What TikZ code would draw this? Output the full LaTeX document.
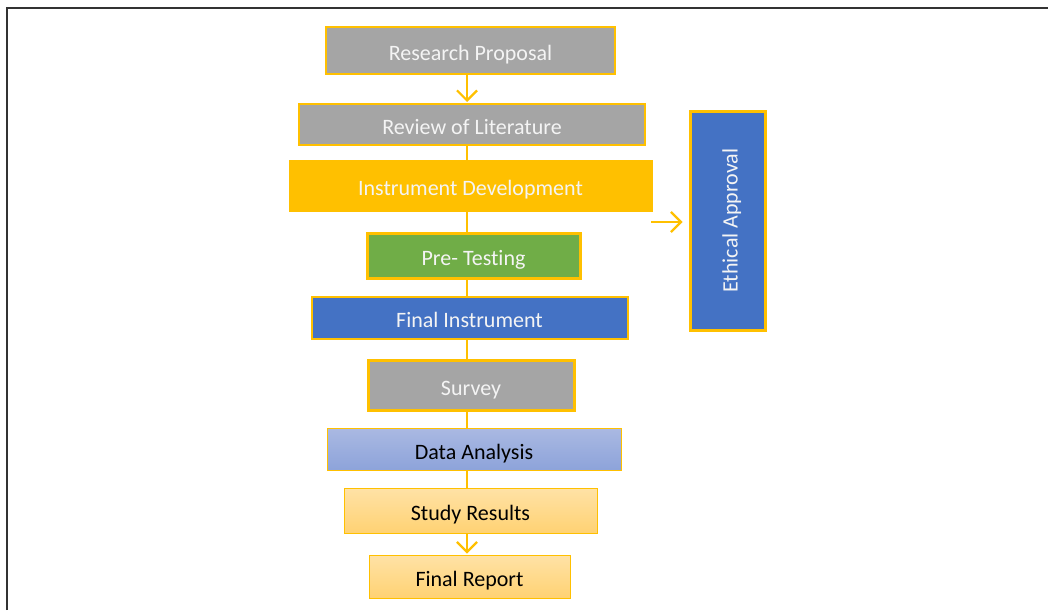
\documentclass[tikz,border=0pt]{standalone}
\usepackage{fontspec}
\setmainfont[Ligatures=NoCommon]{Carlito}
\usetikzlibrary{arrows.meta,shadings}
\definecolor{edgegold}{HTML}{FFC000}
\definecolor{boxgray}{HTML}{A5A5A5}
\definecolor{boxgreen}{HTML}{70AD47}
\definecolor{boxblue}{HTML}{4472C4}
\definecolor{paletop}{HTML}{AAB9E2}
\definecolor{palebot}{HTML}{8DA3DA}
\definecolor{peachtop}{HTML}{FFE2A6}
\definecolor{peachbot}{HTML}{FFD273}
\definecolor{lighttext}{HTML}{F4F4F4}
\tikzset{
  stepbox/.style={draw=edgegold, inner sep=0pt, font=\fontsize{22}{24}\selectfont,
    text=lighttext, text height=20pt, text depth=0pt},
  darktext/.style={text=black},
  link/.style={draw=edgegold, line width=2pt},
  arrowlink/.style={link, -{Straight Barb[length=10pt,width=20pt,line width=2.2pt]}},
}
\begin{document}
\begin{tikzpicture}[x=1pt,y=-1pt]
\useasboundingbox (0,0) rectangle (1048,610);
% outer frame (left and top edges only)
\draw[line width=1.5pt, black!80] (7,610) -- (7,8) -- (1048,8);

\coordinate (cx) at (467,0);

\node[stepbox, fill=boxgray, line width=2pt, minimum width=289pt, minimum height=47pt] (rp) at (470.5,50.5) {Research Proposal};
\node[stepbox, fill=boxgray, line width=2pt, minimum width=346pt, minimum height=41pt] (rl) at (472,124.5) {Review of Literature};
\node[stepbox, fill=edgegold, line width=1pt, minimum width=363pt, minimum height=51pt] (id) at (470.5,185.5) {Instrument Development};
\node[stepbox, fill=boxgreen, line width=3pt, minimum width=213pt, minimum height=45pt] (pt) at (473.5,255.5) {Pre- Testing};
\node[stepbox, fill=boxblue, line width=2pt, minimum width=316pt, minimum height=42pt] (fi) at (469.5,317.5) {Final Instrument};
\node[stepbox, fill=boxgray, line width=3pt, minimum width=206pt, minimum height=50pt] (sv) at (471,385) {Survey};
\node[stepbox, darktext, top color=paletop, bottom color=palebot, line width=1pt, minimum width=294pt, minimum height=42pt] (da) at (474,449) {Data Analysis};
\node[stepbox, darktext, top color=peachtop, bottom color=peachbot, line width=1pt, minimum width=253pt, minimum height=45pt] (sr) at (470.5,510.5) {Study Results};
\node[stepbox, darktext, top color=peachtop, bottom color=peachbot, line width=1pt, minimum width=201pt, minimum height=43pt] (fr) at (469.5,576.5) {Final Report};

\node[stepbox, fill=boxblue, line width=3pt, rotate=90, minimum width=219pt, minimum height=75pt] (ea) at (727.5,220.5) {Ethical Approval};

% connectors along the main column
\draw[arrowlink] (rp.south -| cx) -- ([yshift=1pt]rl.north -| cx);
\draw[link] (rl.south -| cx) -- (id.north -| cx);
\draw[link] (id.south -| cx) -- (pt.north -| cx);
\draw[link] (pt.south -| cx) -- (fi.north -| cx);
\draw[link] (fi.south -| cx) -- (sv.north -| cx);
\draw[link] (sv.south -| cx) -- (da.north -| cx);
\draw[link] (da.south -| cx) -- (sr.north -| cx);
\draw[arrowlink] (sr.south -| cx) -- ([yshift=1pt]fr.north -| cx);

% side arrow to the approval box (its left side is the rotated node's north)
\coordinate (side) at (651,222);
\draw[arrowlink] (side) -- ([xshift=-6pt]ea.north |- side);
\end{tikzpicture}
\end{document}
